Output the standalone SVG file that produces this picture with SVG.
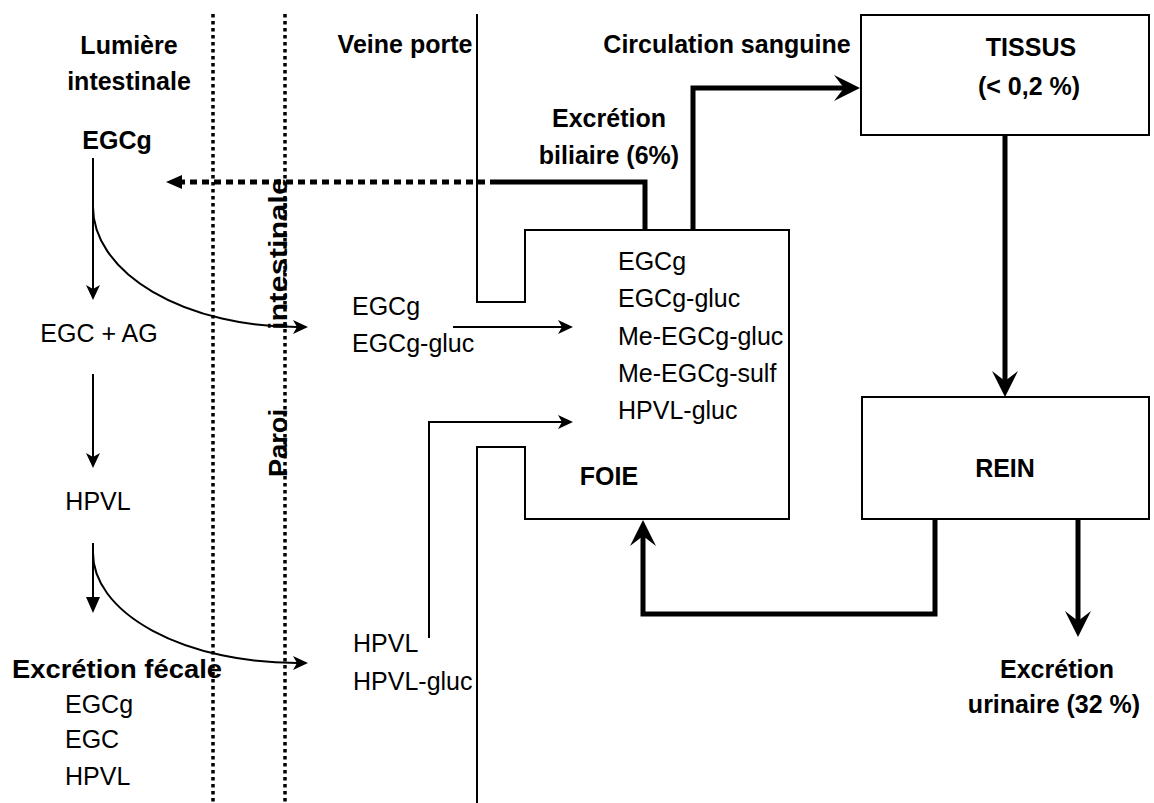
<svg xmlns="http://www.w3.org/2000/svg" width="1154" height="803" viewBox="0 0 1154 803">
<style>
text{font-family:"Liberation Sans",Arial,sans-serif;fill:#000}
.b{font-weight:bold;font-size:25px}
.r{font-size:25px}
.c{text-anchor:middle}
.thin{fill:none;stroke:#000;stroke-width:2}
.thick{fill:none;stroke:#000;stroke-width:5}
.div{fill:none;stroke:#000;stroke-width:3.5;stroke-dasharray:3.5 3.5}
</style>
<defs>
<marker id="ah" markerUnits="userSpaceOnUse" viewBox="0 0 26 26" markerWidth="26" markerHeight="26" refX="10" refY="13" orient="auto"><path d="M0,0 L26,13 L0,26 L10,13 Z" fill="#000"/></marker>
<marker id="ah2" markerUnits="userSpaceOnUse" viewBox="0 0 15 14" markerWidth="15" markerHeight="14" refX="4" refY="7" orient="auto"><path d="M0,0 L15,7 L0,14 L4,7 Z" fill="#000"/></marker>
<marker id="tri" markerUnits="userSpaceOnUse" viewBox="0 0 16 14" markerWidth="16" markerHeight="14" refX="0" refY="7" orient="auto"><path d="M0,0 L16,7 L0,14 Z" fill="#000"/></marker>
</defs>
<rect width="1154" height="803" fill="#fff"/>

<g id="dividers">
<line class="div" x1="213" y1="14" x2="213" y2="803"/>
<line class="div" x1="285" y1="14" x2="285" y2="803"/>
<text class="b" transform="translate(287,477) rotate(-90)"><tspan x="0" y="0" textLength="68" lengthAdjust="spacingAndGlyphs">Paroi</tspan><tspan x="147" y="0" textLength="152" lengthAdjust="spacingAndGlyphs">intestinale</tspan></text>
</g>

<g id="headers">
<text class="b c" x="129" y="54">Lumière</text>
<text class="b c" x="129" y="90">intestinale</text>
<text class="b c" x="405" y="53">Veine porte</text>
<text class="b c" x="727" y="53">Circulation sanguine</text>
</g>

<g id="lumen">
<text class="b c" x="117" y="149">EGCg</text>
<text class="r c" x="99" y="342">EGC + AG</text>
<text class="r c" x="98" y="510">HPVL</text>
<text class="b" x="12" y="678" textLength="210" lengthAdjust="spacingAndGlyphs">Excrétion fécale</text>
<text class="r" x="65" y="713">EGCg</text>
<text class="r" x="65" y="748">EGC</text>
<text class="r" x="65" y="785">HPVL</text>
</g>

<g id="portal">
<text class="r" x="352" y="315">EGCg</text>
<text class="r" x="352" y="352">EGCg-gluc</text>
<text class="r" x="353" y="652">HPVL</text>
<text class="r" x="353" y="690">HPVL-gluc</text>
</g>

<g id="foie">
<path class="thin" d="M477,14 V302 H525 V230 H789 V519 H525 V447 H477 V803"/>
<text class="r" x="618" y="270">EGCg</text>
<text class="r" x="618" y="307">EGCg-gluc</text>
<text class="r" x="618" y="345">Me-EGCg-gluc</text>
<text class="r" x="618" y="382">Me-EGCg-sulf</text>
<text class="r" x="618" y="419">HPVL-gluc</text>
<text class="b c" x="609" y="485">FOIE</text>
</g>

<g id="tissus">
<rect class="thin" x="861" y="15" width="288" height="120"/>
<text class="b c" x="1031" y="56">TISSUS</text>
<text class="b c" x="1029" y="95">(&lt; 0,2 %)</text>
</g>

<g id="rein">
<rect class="thin" x="862" y="397" width="287" height="122"/>
<text class="b c" x="1005" y="477">REIN</text>
</g>

<g id="labels">
<text class="b c" x="609" y="127">Excrétion</text>
<text class="b c" x="609" y="164">biliaire (6%)</text>
<text class="b c" x="1057" y="678">Excrétion</text>
<text class="b c" x="1054" y="713">urinaire (32 %)</text>
</g>

<g id="connectors">
<line class="thin" x1="93" y1="158" x2="93" y2="289" marker-end="url(#ah2)"/>
<path class="thin" d="M93,207 A204,120 0 0 0 297,327" marker-end="url(#ah2)"/>
<line class="thin" x1="93" y1="374" x2="93" y2="457" marker-end="url(#ah2)"/>
<line class="thin" x1="93" y1="543" x2="93" y2="597" marker-end="url(#tri)"/>
<path class="thin" d="M93,553 A204,110 0 0 0 297,663" marker-end="url(#ah2)"/>
<line class="thin" x1="453" y1="327" x2="562" y2="327" marker-end="url(#ah2)"/>
<path class="thin" d="M429,638 V422 H562" marker-end="url(#ah2)"/>
<path class="thick" d="M645,230 V182 H497"/>
<line class="thick" x1="497" y1="182" x2="182" y2="182" stroke-dasharray="7 5" marker-end="url(#tri)"/>
<path class="thick" d="M693,230 V88 H844" marker-end="url(#ah)"/>
<line class="thick" x1="1005" y1="135" x2="1005" y2="381" marker-end="url(#ah)"/>
<path class="thick" d="M935,519 V614 H643 V536" marker-end="url(#ah)"/>
<line class="thick" x1="1078" y1="519" x2="1078" y2="621" marker-end="url(#ah)"/>
</g>
</svg>
